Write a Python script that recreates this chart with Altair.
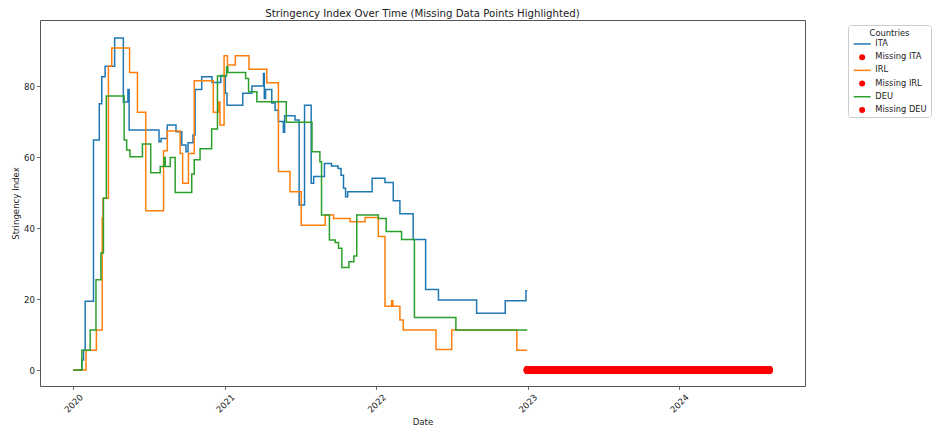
import altair as alt
import pandas as pd

# ---------------- data ----------------
countries = ["ITA", "IRL", "DEU"]

ita_dates = ["2020-01-01", "2020-01-22", "2020-01-26", "2020-01-30", "2020-02-19", "2020-03-04",
             "2020-03-10", "2020-03-18", "2020-04-10", "2020-05-01", "2020-05-12", "2020-05-15",
             "2020-07-26", "2020-07-31", "2020-08-15", "2020-09-05", "2020-09-19", "2020-09-29",
             "2020-10-04", "2020-10-16", "2020-10-21", "2020-11-06", "2020-12-01", "2020-12-22",
             "2021-01-02", "2021-01-06", "2021-02-13", "2021-03-07", "2021-04-04", "2021-04-06",
             "2021-04-09", "2021-04-24", "2021-05-02", "2021-05-10", "2021-05-22", "2021-05-25",
             "2021-06-19", "2021-06-29", "2021-07-12", "2021-07-28", "2021-08-03", "2021-08-29",
             "2021-09-15", "2021-10-01", "2021-10-08", "2021-10-14", "2021-10-19", "2021-10-24",
             "2021-12-22", "2022-01-22", "2022-02-11", "2022-02-27", "2022-03-31", "2022-04-30",
             "2022-05-31", "2022-08-31", "2022-11-08", "2022-12-28", "2022-12-31"]
ita_values = [0, 2.8, 5.6, 19.4, 64.8, 75.0,
              82.6, 85.6, 93.5, 75.5, 79.0, 67.6,
              64.3, 65.2, 69.0, 67.1, 63.4, 61.5,
              64.0, 66.2, 79.0, 82.6, 81.0, 83.0,
              78.0, 74.6, 78.0, 80.0, 83.5, 76.5,
              79.0, 75.2, 73.2, 70.0, 67.0, 71.6,
              70.4, 46.5, 74.6, 52.6, 54.5, 58.2,
              57.5, 56.8, 54.9, 51.2, 48.8, 50.2,
              54.0, 52.8, 47.7, 44.0, 36.8, 22.7,
              19.7, 16.0, 19.5, 22.3, 22.3]

irl_dates = ["2020-01-01", "2020-02-01", "2020-02-26", "2020-03-11", "2020-03-13", "2020-03-26",
             "2020-04-03", "2020-05-16", "2020-06-04", "2020-06-24", "2020-08-06", "2020-08-15",
             "2020-09-15", "2020-09-21", "2020-10-05", "2020-10-19", "2020-12-04", "2020-12-17",
             "2020-12-20", "2020-12-30", "2021-01-07", "2021-01-26", "2021-02-28", "2021-04-12",
             "2021-05-10", "2021-06-07", "2021-07-04", "2021-08-31", "2021-09-20", "2021-10-30",
             "2021-12-05", "2022-01-06", "2022-01-22", "2022-02-07", "2022-02-10", "2022-02-27",
             "2022-03-07", "2022-05-25", "2022-07-02", "2022-12-06", "2022-12-31"]
irl_values = [0, 5.6, 11.3, 42.8, 48.4, 85.6,
              90.7, 83.8, 72.6, 44.9, 61.8, 67.3,
              61.0, 52.6, 61.0, 81.5, 72.6, 75.5,
              69.0, 88.5, 85.9, 88.5, 84.7, 80.9,
              55.9, 50.2, 40.8, 43.7, 42.7, 41.8,
              43.0, 37.6, 18.0, 19.5, 18.0, 14.1,
              11.3, 5.8, 11.3, 5.6, 5.6]

deu_dates = ["2020-01-01", "2020-01-22", "2020-02-11", "2020-02-25", "2020-03-08", "2020-03-14",
             "2020-03-21", "2020-05-03", "2020-05-09", "2020-05-17", "2020-06-16", "2020-07-06",
             "2020-07-29", "2020-08-07", "2020-08-10", "2020-08-22", "2020-09-03", "2020-10-13",
             "2020-10-19", "2020-11-02", "2020-11-30", "2020-12-14", "2021-01-05", "2021-01-08",
             "2021-02-20", "2021-02-27", "2021-03-19", "2021-05-29", "2021-07-30", "2021-08-18",
             "2021-08-22", "2021-09-10", "2021-09-24", "2021-10-02", "2021-10-10", "2021-10-27",
             "2021-11-08", "2021-11-15", "2022-01-06", "2022-01-25", "2022-03-03", "2022-04-03",
             "2022-07-12", "2022-12-31"]
deu_values = [0, 5.6, 11.3, 25.4, 33.0, 48.4,
              77.2, 64.8, 62.0, 60.1, 63.7, 55.6,
              57.3, 59.9, 57.3, 59.9, 50.0, 55.2,
              59.2, 62.3, 67.9, 82.8, 85.4, 83.8,
              82.1, 78.4, 75.6, 69.8, 61.5, 58.7,
              43.7, 36.6, 35.9, 34.3, 28.9, 30.5,
              32.1, 43.7, 42.7, 39.0, 36.8, 14.8,
              11.3, 11.3]

# every day in this span is missing for all three countries (plotted at 0)
missing_start = "2023-01-01"
missing_end = "2024-08-05"
missing_value = 0

series_order = ["ITA", "Missing ITA", "IRL", "Missing IRL", "DEU", "Missing DEU"]
series_colors = ["#1f77b4", "#ff0000", "#ff7f0e", "#ff0000", "#2ca02c", "#ff0000"]
LINE_SYMBOL = "M-2.83,-0.25H2.83V0.25H-2.83Z"
series_shapes = [LINE_SYMBOL, "circle", LINE_SYMBOL, "circle", LINE_SYMBOL, "circle"]

# ---------------- tables ----------------
rows = []
for name, dates, vals in [("ITA", ita_dates, ita_values),
                          ("IRL", irl_dates, irl_values),
                          ("DEU", deu_dates, deu_values)]:
    rows += [{"date": d, "value": v, "series": name} for d, v in zip(dates, vals)]
lines_df = pd.DataFrame(rows)

miss_rows = []
for c in countries:
    for d in pd.date_range(missing_start, missing_end, freq="D"):
        miss_rows.append({"date": d.strftime("%Y-%m-%d"), "value": missing_value,
                          "series": f"Missing {c}"})
miss_df = pd.DataFrame(miss_rows)

# ---------------- chart ----------------
FONT = "DejaVu Sans"

x_enc = alt.X(
    "date:T",
    scale=alt.Scale(type="utc", nice=False,
                    domain=[alt.DateTime(year=2019, month=10, date=13, utc=True),
                            alt.DateTime(year=2024, month=10, date=31, utc=True)]),
    axis=alt.Axis(values=[alt.DateTime(year=y, month=1, date=1, utc=True) for y in range(2020, 2025)],
                  format="%Y", labelAngle=315, labelAlign="center", labelBaseline="middle",
                  tickSize=3.5, labelPadding=13.5, title="Date", titleY=31),
)
y_enc = alt.Y(
    "value:Q",
    scale=alt.Scale(domain=[-4.5, 98.6], nice=False, zero=False),
    axis=alt.Axis(values=[0, 20, 40, 60, 80], tickSize=3.5, labelPadding=2,
                  title="Stringency Index", titleX=-20, titleY=183),
)

legend = alt.Legend(title="Countries", orient="none", legendX=808, legendY=5,
                    symbolSize=36, symbolOffset=6.5, labelOffset=9, padding=3.5,
                    rowPadding=4.2, titlePadding=3, titleAnchor="middle",
                    strokeColor="#cccccc", fillColor="white", cornerRadius=3,
                    labelFontSize=8.3, titleFontSize=8.3, titleFontWeight="normal",
                    labelFont=FONT, titleFont=FONT, labelColor="#222", titleColor="#222",
                    symbolStrokeWidth=0)

color_scale = alt.Scale(domain=series_order, range=series_colors)

lines = alt.Chart(lines_df).mark_line(interpolate="step-after", strokeWidth=1.5).encode(
    x=x_enc, y=y_enc,
    color=alt.Color("series:N", scale=color_scale, legend=legend),
)

points = alt.Chart(miss_df).mark_point(filled=True, size=64, opacity=1, strokeWidth=0).encode(
    x=x_enc, y=y_enc,
    color=alt.Color("series:N", scale=color_scale, legend=legend),
    shape=alt.Shape("series:N", scale=alt.Scale(domain=series_order, range=series_shapes),
                    legend=legend),
)

chart = alt.layer(lines, points).properties(
    width=765, height=366,
    title=alt.TitleParams("Stringency Index Over Time (Missing Data Points Highlighted)",
                          fontSize=10.2, font=FONT, fontWeight="normal", offset=1,
                          anchor="middle", color="#222"),
    autosize=alt.AutoSizeParams(type="none"),
    padding={"left": 32, "top": 12, "right": 127, "bottom": 40},
).configure_view(
    stroke="#555", strokeWidth=1
).configure_axis(
    labelFont=FONT, titleFont=FONT, labelFontSize=8.6, titleFontSize=8.6,
    labelColor="#222", titleColor="#222", tickColor="#444", tickWidth=0.8,
    titleFontWeight="normal", grid=False, domain=False,
)

chart.save("out.html", embed_options={"renderer": "svg", "actions": False})
